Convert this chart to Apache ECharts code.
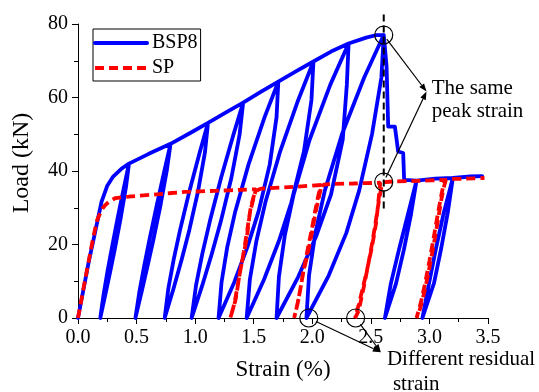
<!DOCTYPE html>
<html>
<head>
<meta charset="utf-8">
<script src="https://cdn.jsdelivr.net/npm/echarts@6/dist/echarts.min.js"></script>
<style>
html,body{margin:0;padding:0;background:#fff;}
#c{width:539px;height:392px;}
</style>
</head>
<body>
<div id="c"></div>
<script>
// ---- data (strain %, load kN) ----
const bsp8Envelope = [
  [0,0],[0.09,15],[0.17,27],[0.2,31.5],[0.25,36],[0.3,38.5],[0.37,40.6],[0.435,42]
];
const bsp8Cycles = [
  // cycle 1
  [0.410,35.7],[0.365,27.3],[0.315,18.9],[0.275,12.6],[0.233,6.3],[0.19,0],
  [0.218,6.3],[0.251,12.6],[0.288,18.9],[0.339,27.3],[0.393,35.7],[0.435,42],
  [0.6,44.6],[0.79,47.4],
  // cycle 2
  [0.759,40.29],[0.705,30.81],[0.644,21.33],[0.594,14.22],[0.543,7.11],[0.49,0],
  [0.524,7.11],[0.565,14.22],[0.610,21.33],[0.673,30.81],[0.739,40.29],[0.79,47.4],
  [0.95,50.2],[1.11,53.1],
  // cycle 3
  [1.084,45.14],[1.025,34.52],[0.950,23.9],[0.885,15.93],[0.815,7.97],[0.74,0],
  [0.771,7.97],[0.817,15.93],[0.871,23.9],[0.951,34.52],[1.040,45.14],[1.11,53.1],
  [1.26,55.9],[1.41,58.6],
  // cycle 4
  [1.379,49.81],[1.309,38.09],[1.220,26.37],[1.143,17.58],[1.060,8.79],[0.97,0],
  [1.007,8.79],[1.062,17.58],[1.126,26.37],[1.221,38.09],[1.326,49.81],[1.41,58.6],
  [1.56,61.5],[1.71,64.3],
  // cycle 5
  [1.695,54.66],[1.637,41.8],[1.541,28.94],[1.446,19.29],[1.333,9.65],[1.2,0],
  [1.225,9.65],[1.274,19.29],[1.342,28.94],[1.456,41.8],[1.593,54.66],[1.71,64.3],
  [1.86,67.1],[2.01,69.8],
  // cycle 6
  [1.993,59.33],[1.929,45.37],[1.821,31.41],[1.715,20.94],[1.588,10.47],[1.44,0],
  [1.467,10.47],[1.523,20.94],[1.599,31.41],[1.726,45.37],[1.880,59.33],[2.01,69.8],
  [2.16,72.5],[2.31,74.7],
  // cycle 7
  [2.295,63.5],[2.26,48.56],[2.16,33.62],[2.035,22.41],[1.880,11.21],[1.695,0],
  [1.715,11.21],[1.765,22.41],[1.841,33.62],[1.978,48.56],[2.154,63.5],[2.31,74.7],
  [2.46,76.3],[2.55,77.0],[2.61,77.0],
  // cycle 8 (peak)
  [2.59,65.45],[2.51,50.05],[2.40,34.65],[2.29,23.1],[2.14,11.55],[1.95,0],
  [1.972,11.55],[2.026,23.1],[2.107,34.65],[2.254,50.05],[2.443,65.45],[2.61,77.0]
];
const bsp8PostPeak = [
  [2.634,68.5],[2.648,52.1],[2.705,52.1],[2.72,48.5],[2.733,45.3],[2.776,44.9],[2.784,37.6],[2.89,37.4],
  [2.841,27.9],[2.782,18.6],[2.714,9.3],[2.62,0],
  [2.67,9.3],[2.74,18.6],[2.814,27.9],[2.89,37.4],
  [3.05,37.9],[3.2,38.1],
  [3.156,28.6],[3.101,19.05],[3.039,9.5],[2.94,0],
  [2.997,9.5],[3.057,19.05],[3.122,28.6],[3.2,38.1],
  [3.35,38.5],[3.45,38.6]
];
const spEnvelope = [
  [0,0],[0.09,15.3],[0.16,26.2],[0.21,29.8],[0.26,31.5],[0.32,32.6],[0.43,33.0],[0.69,33.7],
  [0.91,34.3],[1.17,34.6],[1.4,34.9],[1.52,35.0]
];
const spCycles = [
  [1.49,31.5],[1.465,28],[1.44,21.5],[1.41,17],[1.38,12],[1.345,5],[1.30,0],
  [1.335,4],[1.375,11],[1.415,18],[1.445,24],[1.475,30],[1.51,34],[1.55,35.1],
  [1.8,35.6],[2.08,36.2],
  [2.05,32],[2.03,29],[1.99,22],[1.95,16],[1.92,12],[1.885,5.5],[1.845,0],
  [1.875,4],[1.91,10],[1.95,17],[1.995,24],[2.03,30],[2.065,35],[2.1,36.3],
  [2.35,36.6],[2.58,36.8],
  [2.565,32],[2.545,26],[2.51,19.5],[2.47,13.5],[2.43,8],[2.395,3.5],[2.365,0],
  [2.395,2],[2.44,8.5],[2.48,15],[2.52,22],[2.55,28],[2.575,33],[2.61,36.9],
  [2.9,37.3],[3.13,37.6],
  [3.105,34],[3.07,28],[3.04,22.5],[3.0,15.5],[2.96,9],[2.925,4],[2.89,0],
  [2.92,2.5],[2.96,7.5],[3.005,14.5],[3.045,21.5],[3.08,28],[3.11,33.5],[3.15,37.7],
  [3.3,37.9],[3.47,38.1]
];
const seriesNames = ['BSP8','SP'];
const xTitle = 'Strain (%)';
const yTitle = 'Load (kN)';
// annotation anchors (data coordinates)
const guideLine = [[2.61,82.6],[2.61,28.9]];
const circleMarks = [[2.61,77],[2.61,37],[1.97,0],[2.37,0]];
const peakTarget = [2.975,61.6];
const residualTarget = [2.585,-9.3];
const peakLabel = {pos:[3.02,62.4], lines:['The same','peak strain']};
const residualLabel = [{pos:[2.637,-11.4], text:'Different residual'},{pos:[2.688,-18],text:'strain'}];

const FONT = 'Liberation Serif, Times New Roman, serif';
const chart = echarts.init(document.getElementById('c'), null, {renderer:'canvas'});

chart.setOption({
  animation:false,
  backgroundColor:'#fff',
  grid:{left:78,right:51,top:24,bottom:74,containLabel:false,outerBoundsMode:'none'},
  legend:{
    data:seriesNames, orient:'vertical', left:93, top:29,
    itemWidth:52, itemHeight:14, itemGap:5,
    padding:[4,3,3,0], borderColor:'#000', borderWidth:1, borderRadius:0,
    itemStyle:{opacity:0},
    lineStyle:{width:4},
    textStyle:{fontFamily:FONT,fontSize:20,color:'#000',lineHeight:20},
    selectedMode:false
  },
  xAxis:{
    type:'value', min:0, max:3.5, interval:0.5,
    name:xTitle, nameLocation:'middle', nameGap:40,
    nameTextStyle:{fontFamily:FONT,fontSize:23,color:'#000'},
    axisLine:{show:true,onZero:false,lineStyle:{color:'#000',width:1}},
    axisTick:{show:true,inside:false,length:6,lineStyle:{color:'#000'}},
    minorTick:{show:true,splitNumber:2,length:4,lineStyle:{color:'#000'}},
    splitLine:{show:false}, minorSplitLine:{show:false},
    axisLabel:{fontFamily:FONT,fontSize:20,color:'#000',margin:10,formatter:v=>v.toFixed(1)}
  },
  yAxis:{
    type:'value', min:0, max:80, interval:20,
    name:yTitle, nameLocation:'middle', nameGap:44, nameRotate:90,
    nameTextStyle:{fontFamily:FONT,fontSize:24,color:'#000',padding:[0,0,0,16]},
    axisLine:{show:true,onZero:false,lineStyle:{color:'#000',width:1}},
    axisTick:{show:true,inside:false,length:6,lineStyle:{color:'#000'}},
    minorTick:{show:true,splitNumber:2,length:4,lineStyle:{color:'#000'}},
    splitLine:{show:false}, minorSplitLine:{show:false},
    axisLabel:{fontFamily:FONT,fontSize:20,color:'#000',margin:10}
  },
  series:[
    {name:seriesNames[0], type:'line', symbol:'none', clip:false,
     data:bsp8Envelope.concat(bsp8Cycles, bsp8PostPeak),
     lineStyle:{color:'#0000FF',width:3.8,join:'round',cap:'round'},
     itemStyle:{color:'#0000FF'}, z:2},
    {name:seriesNames[1], type:'line', symbol:'none', clip:false, smooth:0.2,
     data:spEnvelope.concat(spCycles),
     lineStyle:{color:'#FF0000',width:3.8,type:[9,5]},
     itemStyle:{color:'#FF0000'}, z:3}
  ]
});

function px(p){ return chart.convertToPixel({gridIndex:0}, p); }
const g = [];
const a = px(guideLine[0]), b = px(guideLine[1]);
g.push({type:'line', shape:{x1:a[0],y1:a[1],x2:b[0],y2:b[1]}, style:{stroke:'#000',lineWidth:2,lineDash:[7,4]}, z:10});
const R = 9;
const cpx = circleMarks.map(px);
cpx.forEach(c=>g.push({type:'circle', shape:{cx:c[0],cy:c[1],r:R}, style:{stroke:'#000',fill:null,lineWidth:1.2}, z:10}));
function arrow(from, to, startOff){
  const dx = to[0]-from[0], dy = to[1]-from[1], L = Math.hypot(dx,dy);
  const ux = dx/L, uy = dy/L;
  const sx = from[0]+ux*startOff, sy = from[1]+uy*startOff;
  const hl = 8, hw = 3;
  const bx = to[0]-ux*hl, by = to[1]-uy*hl;
  g.push({type:'line', shape:{x1:sx,y1:sy,x2:bx,y2:by}, style:{stroke:'#000',lineWidth:1.2}, z:10});
  g.push({type:'polygon', shape:{points:[[to[0],to[1]],[bx-uy*hw,by+ux*hw],[bx+uy*hw,by-ux*hw]]}, style:{fill:'#000'}, z:10});
}
const pt = px(peakTarget), rt = px(residualTarget);
arrow(cpx[0], pt, 5);
arrow(cpx[1], pt, 5);
arrow(cpx[2], rt, 8);
arrow(cpx[3], rt, 8);
const pl = px(peakLabel.pos);
peakLabel.lines.forEach((t,i)=>g.push({type:'text', x:pl[0], y:pl[1]+i*23, style:{text:t, font:'21px '+FONT, fill:'#000', verticalAlign:'middle', align:'left'}, z:10}));
residualLabel.forEach(r=>{const p = px(r.pos); g.push({type:'text', x:p[0], y:p[1], style:{text:r.text, font:'21px '+FONT, fill:'#000', verticalAlign:'middle', align:'left'}, z:10});});
chart.setOption({graphic:{elements:g}});
</script>
</body>
</html>
